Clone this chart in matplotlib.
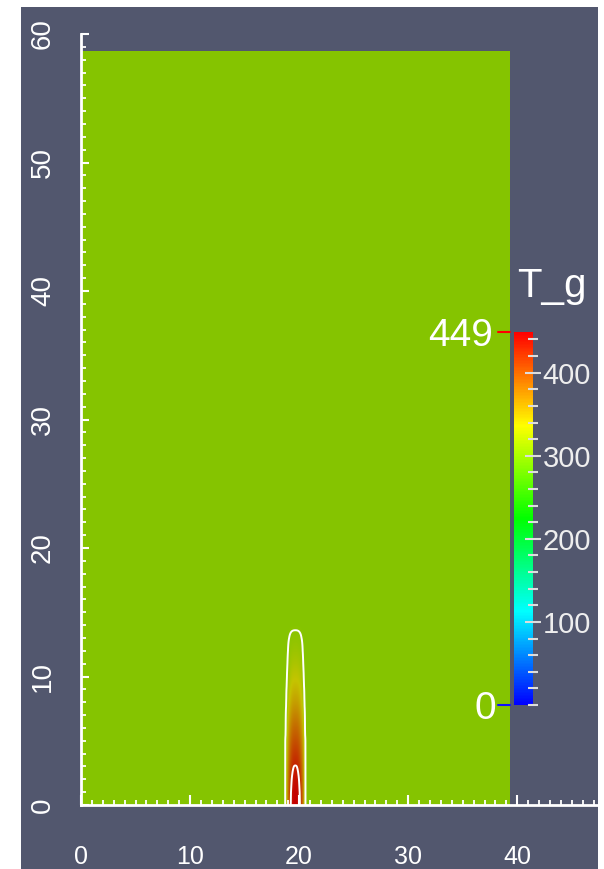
import matplotlib
matplotlib.use('Agg')
import matplotlib.pyplot as plt
import numpy as np
from matplotlib.colors import ListedColormap, Normalize, hsv_to_rgb
from matplotlib.cm import ScalarMappable
from matplotlib.patches import Rectangle
from matplotlib.ticker import MultipleLocator

# domain extents (m) and the gas temperature plume read along its axis
domain_w = 39.3
domain_h = 58.6
plume_x = 19.65
plume_z = [0, 1, 2, 3, 4, 5, 6, 7, 8, 9, 10, 11, 12, 13, 14, 15]
plume_Tc = [449, 446, 439, 429, 416, 402, 388, 373, 358, 345, 333, 322, 313, 306, 301, 300]
plume_hw = [0.92, 0.92, 0.92, 0.92, 0.92, 0.92, 0.9, 0.88, 0.86, 0.83, 0.8, 0.77, 0.75, 0.75, 0.75, 0.75]
T_amb = 300
T_min, T_max = 0, 449
contour_levels = [303, 428]

x_ticks = [0, 10, 20, 30, 40]
y_ticks = [0, 10, 20, 30, 40, 50, 60]
cb_ticks = [100, 200, 300, 400]

BG = '#52576E'
W, H = 604, 869
FONT = 'Liberation Sans'

# blue -> red rainbow (hsv), and the same darkened by the headlight shading
hue = np.linspace(2 / 3, 0, 256)
rgb = hsv_to_rgb(np.stack([hue, np.ones(256), np.ones(256)], axis=1))
cmap = ListedColormap(rgb)
cmap_lit = ListedColormap(rgb * 0.77)

# gas temperature field on the slice
xs = np.linspace(0, domain_w, 787)
zs = np.linspace(0, domain_h, 1173)
X, Z = np.meshgrid(xs, zs)
Tc = np.interp(Z, plume_z, plume_Tc, right=T_amb)
hw = np.interp(Z, plume_z, plume_hw)
g = np.clip(1 - np.abs((X - plume_x) / hw) ** 2.5, 0, None)
T = T_amb + (Tc - T_amb) * g

fig = plt.figure(figsize=(W / 100, H / 100), dpi=100)
fig.patch.set_facecolor('white')
fig.add_artist(Rectangle((21 / W, 0), 577 / W, 862 / H, transform=fig.transFigure,
                         facecolor=BG, edgecolor='none', zorder=-10))

ax = fig.add_axes([81 / W, (H - 805) / H, (598 - 81) / W, (805 - 34) / H])
ax.set_facecolor('none')
ax.imshow(T, extent=[0, domain_w, 0, domain_h], origin='lower', cmap=cmap_lit,
          vmin=T_min, vmax=T_max, interpolation='bilinear', aspect='auto', zorder=0)
ax.contour(X, Z, T, levels=contour_levels, colors='white', linewidths=1.4, zorder=1)
ax.set_xlim(0, 47.4)
ax.set_ylim(0, 60)

for s in ['top', 'right']:
    ax.spines[s].set_visible(False)
for s in ['left', 'bottom']:
    ax.spines[s].set_color('white')
    ax.spines[s].set_linewidth(2)

ax.set_xticks(x_ticks)
ax.set_xticklabels([str(v) for v in x_ticks])
ax.set_xticks(range(0, 48), minor=True)
ax.set_yticks(y_ticks)
ax.set_yticklabels([str(v) for v in y_ticks], rotation=90, va='center')
ax.set_yticks(range(0, 61), minor=True)
ax.tick_params(axis='x', which='major', direction='in', length=7.5, width=1.5, color='white',
               labelcolor='white', labelsize=18, pad=29, labelfontfamily=FONT)
ax.tick_params(axis='x', which='minor', direction='in', length=3.8, width=1.3, color='white')
ax.tick_params(axis='y', which='major', direction='in', length=6, width=1.5, color='white',
               labelcolor='white', labelsize=20, pad=18, labelfontfamily=FONT)
ax.tick_params(axis='y', which='minor', direction='in', length=3.8, width=1.3, color='white')

# colour legend
cax = fig.add_axes([514 / W, (H - 705) / H, 19 / W, 373 / H])
cb = fig.colorbar(ScalarMappable(Normalize(T_min, T_max), cmap), cax=cax)
cb.outline.set_visible(False)
cb.set_ticks(cb_ticks)
cb.ax.yaxis.set_minor_locator(MultipleLocator(20))
cax.tick_params(which='major', direction='inout', length=12, width=1.5, color='#DDDDDD',
                labelcolor='#EEEEEE', labelsize=21, pad=1, labelfontfamily=FONT)
cax.tick_params(which='minor', direction='inout', length=7, width=1.5, color='#DDDDDD')

ytr = cax.get_yaxis_transform()
for val, col, dx in [(T_max, 'red', -21), (T_min, '#1010FF', -18)]:
    cax.annotate('', xy=(0, val), xycoords=ytr, xytext=(-16, 0), textcoords='offset pixels',
                 arrowprops=dict(arrowstyle='-', color=col, lw=1.5, shrinkA=0, shrinkB=2.9))
    cax.annotate(str(val), xy=(0, val), xycoords=ytr, xytext=(dx, 0),
                 textcoords='offset pixels', ha='right', va='center_baseline',
                 color='white', fontsize=28, family=FONT)

fig.text(517 / W, (H - 297) / H, 'T_g', color='white', fontsize=29, family=FONT,
         ha='left', va='baseline')

fig.savefig('out.png', dpi=100, facecolor=fig.get_facecolor())
plt.close(fig)
